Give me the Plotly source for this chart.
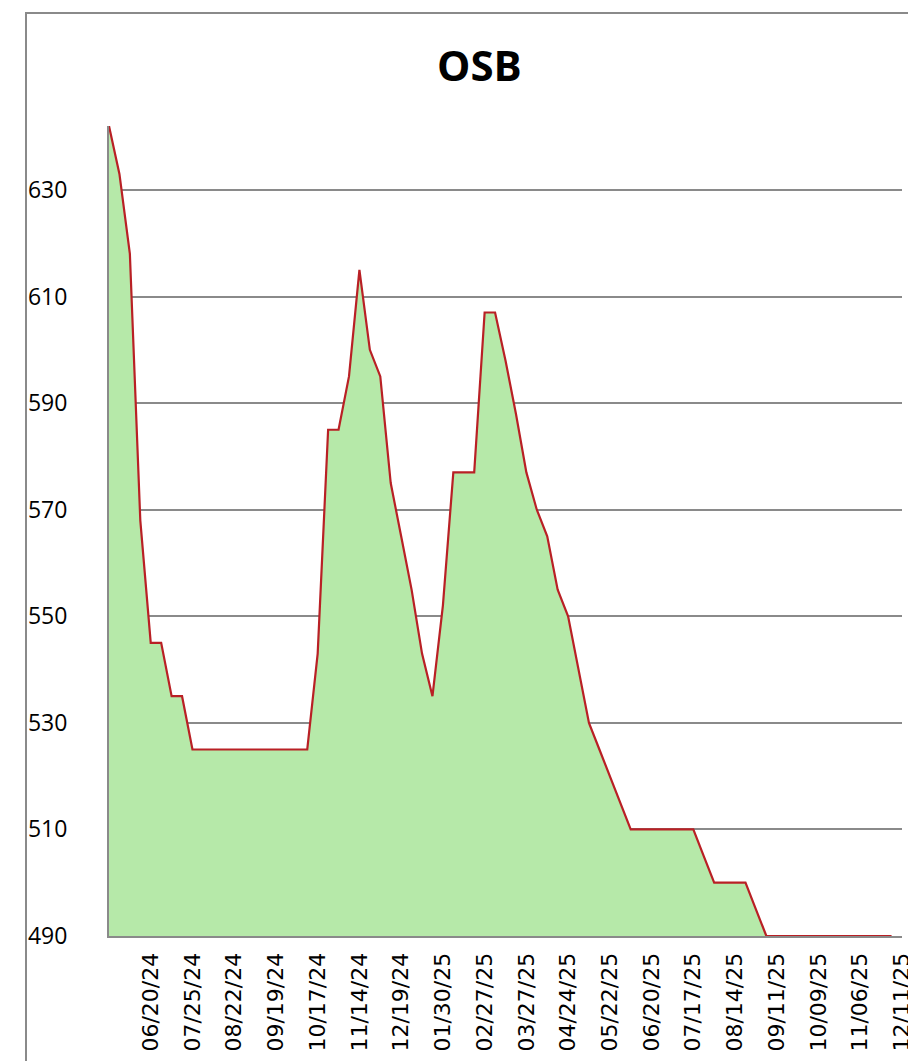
import plotly.graph_objects as go

title_text = "OSB"

dates = [
    "05/23/24", "05/30/24", "06/06/24", "06/13/24", "06/20/24", "06/27/24", "07/11/24", "07/18/24",
    "07/25/24", "08/01/24", "08/08/24", "08/15/24", "08/22/24", "08/29/24", "09/05/24", "09/12/24",
    "09/19/24", "09/26/24", "10/03/24", "10/10/24", "10/17/24", "10/24/24", "10/31/24", "11/07/24",
    "11/14/24", "11/21/24", "12/05/24", "12/12/24", "12/19/24", "01/09/25", "01/16/25", "01/23/25",
    "01/30/25", "02/06/25", "02/13/25", "02/20/25", "02/27/25", "03/06/25", "03/13/25", "03/20/25",
    "03/27/25", "04/03/25", "04/10/25", "04/17/25", "04/24/25", "05/01/25", "05/08/25", "05/15/25",
    "05/22/25", "05/29/25", "06/05/25", "06/12/25", "06/20/25", "06/26/25", "07/03/25", "07/10/25",
    "07/17/25", "07/24/25", "07/31/25", "08/07/25", "08/14/25", "08/21/25", "08/28/25", "09/04/25",
    "09/11/25", "09/18/25", "09/25/25", "10/02/25", "10/09/25", "10/16/25", "10/23/25", "10/30/25",
    "11/06/25", "11/13/25", "11/20/25", "12/04/25", "12/11/25",
]

prices = [
    642, 633, 618, 568, 545, 545, 535, 535,
    525, 525, 525, 525, 525, 525, 525, 525,
    525, 525, 525, 525, 543, 585, 585, 595,
    615, 600, 595, 575, 565, 555, 543, 535,
    552, 577, 577, 577, 607, 607, 598, 588,
    577, 570, 565, 555, 550, 540, 530, 525,
    520, 515, 510, 510, 510, 510, 510, 510,
    510, 505, 500, 500, 500, 500, 495, 490,
    490, 490, 490, 490, 490, 490, 490, 490,
    490, 490, 490, 490,
]

tick_labels = dates[4::4]
y_ticks = [490, 510, 530, 550, 570, 590, 610, 630]

fig = go.Figure()
fig.add_trace(go.Scatter(
    x=dates[:len(prices)],
    y=prices,
    mode="lines",
    fill="tozeroy",
    fillcolor="#B6E9A9",
    line=dict(color="#B92025", width=2.2),
    hoverinfo="x+y",
))

fig.update_layout(
    width=908,
    height=1061,
    paper_bgcolor="white",
    plot_bgcolor="white",
    showlegend=False,
    margin=dict(l=109, r=6, t=126, b=125, autoexpand=False),
    title=dict(
        text="<b>" + title_text + "</b>",
        x=0.528, xanchor="center",
        y=1 - 66 / 1061, yanchor="middle",
        font=dict(family="Open Sans", size=42, color="black"),
    ),
    xaxis=dict(
        type="category",
        categoryorder="array",
        categoryarray=dates,
        range=[0, len(dates) - 1],
        tickmode="array",
        tickvals=tick_labels,
        ticktext=tick_labels,
        tickangle=-90,
        tickfont=dict(family="DejaVu Sans", size=22, color="black"),
        ticklabelstandoff=6,
        automargin=False,
        showgrid=False,
        showline=True,
        linecolor="#8A8A8A",
        linewidth=2,
        ticks="",
        zeroline=False,
        fixedrange=True,
    ),
    yaxis=dict(
        range=[490, 642],
        tickmode="array",
        tickvals=y_ticks,
        ticktext=[str(v) for v in y_ticks],
        tickfont=dict(family="Open Sans", size=23, color="black"),
        ticklabelstandoff=35,
        automargin=False,
        showgrid=True,
        gridcolor="#8A8A8A",
        gridwidth=2,
        showline=True,
        linecolor="#8A8A8A",
        linewidth=2,
        ticks="",
        zeroline=False,
        fixedrange=True,
    ),
    shapes=[
        dict(
            type="rect", xref="paper", yref="paper",
            x0=(26 - 109) / 793, x1=1.2,
            y0=-0.3, y1=(936 - 13) / 810,
            line=dict(color="#8A8A8A", width=2),
            fillcolor="rgba(0,0,0,0)",
            layer="below",
        )
    ],
)

fig.write_html(
    "out.html",
    config={"displayModeBar": False},
    post_script="document.body.style.margin='0';document.body.style.overflow='hidden';",
)
